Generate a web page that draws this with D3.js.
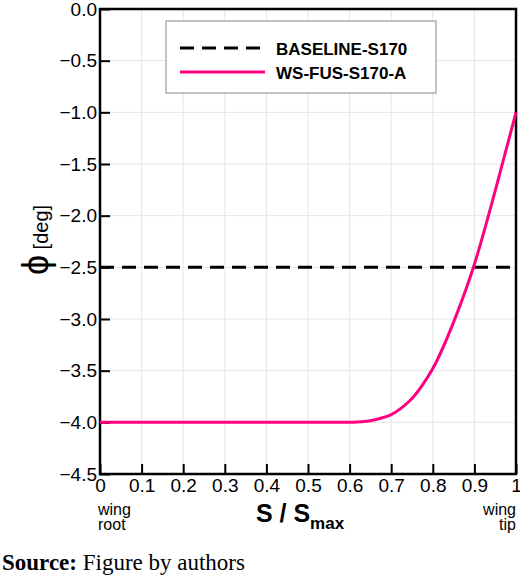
<!DOCTYPE html><html><head><meta charset="utf-8"><script src="https://cdn.jsdelivr.net/npm/d3@7"></script>
<style>body{margin:0;background:#fff}text{font-family:"Liberation Sans",Arial,sans-serif}</style></head><body><svg id="c" width="520" height="577"></svg>
<script>
const xTicks=[0,0.1,0.2,0.3,0.4,0.5,0.6,0.7,0.8,0.9,1];
const yTicks=[0,-0.5,-1,-1.5,-2,-2.5,-3,-3.5,-4,-4.5];
const baselineX=[0,1];
const baselineY=[-2.5,-2.5];
const wsX=[0,0.1,0.2,0.3,0.4,0.5,0.6,0.625,0.65,0.675,0.7,0.725,0.75,0.775,0.8,0.85,0.9,0.95,1];
const wsY=[-4,-4,-4,-4,-4,-4,-4,-3.995,-3.985,-3.96,-3.925,-3.86,-3.77,-3.64,-3.48,-3.03,-2.47,-1.76,-1.0];
const svg=d3.select("#c");
const x=d3.scaleLinear().domain([0,1]).range([100,516]);
const y=d3.scaleLinear().domain([0,-4.5]).range([9,474]);
const g=svg.append("g");
g.selectAll(".gx").data(xTicks).join("line").attr("x1",d=>x(d)).attr("x2",d=>x(d)).attr("y1",9).attr("y2",474).attr("stroke","#e6e6e6");
g.selectAll(".gy").data(yTicks).join("line").attr("y1",d=>y(d)).attr("y2",d=>y(d)).attr("x1",100).attr("x2",516).attr("stroke","#e6e6e6");
const ax=svg.append("g").attr("transform","translate(0,474)").call(d3.axisBottom(x).tickValues(xTicks).tickSize(-10).tickPadding(2).tickFormat(d=>d===0||d===1?d:d3.format(".1f")(d)));
const ay=svg.append("g").attr("transform","translate(100,0)").call(d3.axisLeft(y).tickValues(yTicks).tickSize(-10).tickPadding(3).tickFormat(d=>d3.format(".1f")(d).replace("-","\u2212")));
[ax,ay].forEach(a=>{a.select(".domain").remove();a.selectAll("line").attr("stroke","#000").attr("stroke-width",2);a.selectAll("text").attr("font-size",19).attr("fill","#000");});
ax.selectAll("text").attr("dy","0.85em");
svg.append("rect").attr("x",100).attr("y",9).attr("width",416).attr("height",465).attr("fill","none").attr("stroke","#000").attr("stroke-width",2.5);
const line=d3.line().x(d=>x(d[0])).y(d=>y(d[1]));
svg.append("path").attr("d",line(baselineX.map((v,i)=>[v,baselineY[i]]))).attr("stroke","#000").attr("stroke-width",3).attr("stroke-dasharray","14,8").attr("fill","none");
svg.append("path").attr("d",line.curve(d3.curveMonotoneX)(wsX.map((v,i)=>[v,wsY[i]]))).attr("stroke","#ff0080").attr("stroke-width",3).attr("fill","none");
const lg=svg.append("g");
lg.append("rect").attr("x",166).attr("y",21).attr("width",270).attr("height",72).attr("fill","#fff").attr("stroke","#888").attr("stroke-width",1);
lg.append("line").attr("x1",180).attr("x2",265).attr("y1",48).attr("y2",48).attr("stroke","#000").attr("stroke-width",3).attr("stroke-dasharray","14,8");
lg.append("line").attr("x1",180).attr("x2",265).attr("y1",72).attr("y2",72).attr("stroke","#ff0080").attr("stroke-width",3);
lg.append("text").attr("x",276).attr("y",55).attr("font-size",17).attr("font-weight","bold").text("BASELINE-S170");
lg.append("text").attr("x",276).attr("y",79).attr("font-size",17).attr("font-weight","bold").text("WS-FUS-S170-A");
svg.append("text").attr("x",98).attr("y",515).attr("font-size",16).text("wing");
svg.append("text").attr("x",98).attr("y",530).attr("font-size",16).text("root");
svg.append("text").attr("x",516).attr("y",515).attr("font-size",16).attr("text-anchor","end").text("wing");
svg.append("text").attr("x",516).attr("y",530).attr("font-size",16).attr("text-anchor","end").text("tip");
const xl=svg.append("text").attr("x",300).attr("y",522).attr("text-anchor","middle").attr("font-size",25).attr("font-weight","bold");
xl.append("tspan").text("S / S");xl.append("tspan").attr("font-size",17).attr("dy",7).text("max");
const yl=svg.append("text").attr("transform","translate(48,240) rotate(-90)").attr("text-anchor","middle");
yl.append("tspan").attr("font-size",36).text("ϕ");yl.append("tspan").attr("font-size",20).text(" [deg]");
const src=svg.append("text").attr("x",2).attr("y",570).attr("font-size",23).style("font-family","'Liberation Serif',serif");
src.append("tspan").attr("font-weight","bold").text("Source:");src.append("tspan").text(" Figure by authors");
</script></body></html>
